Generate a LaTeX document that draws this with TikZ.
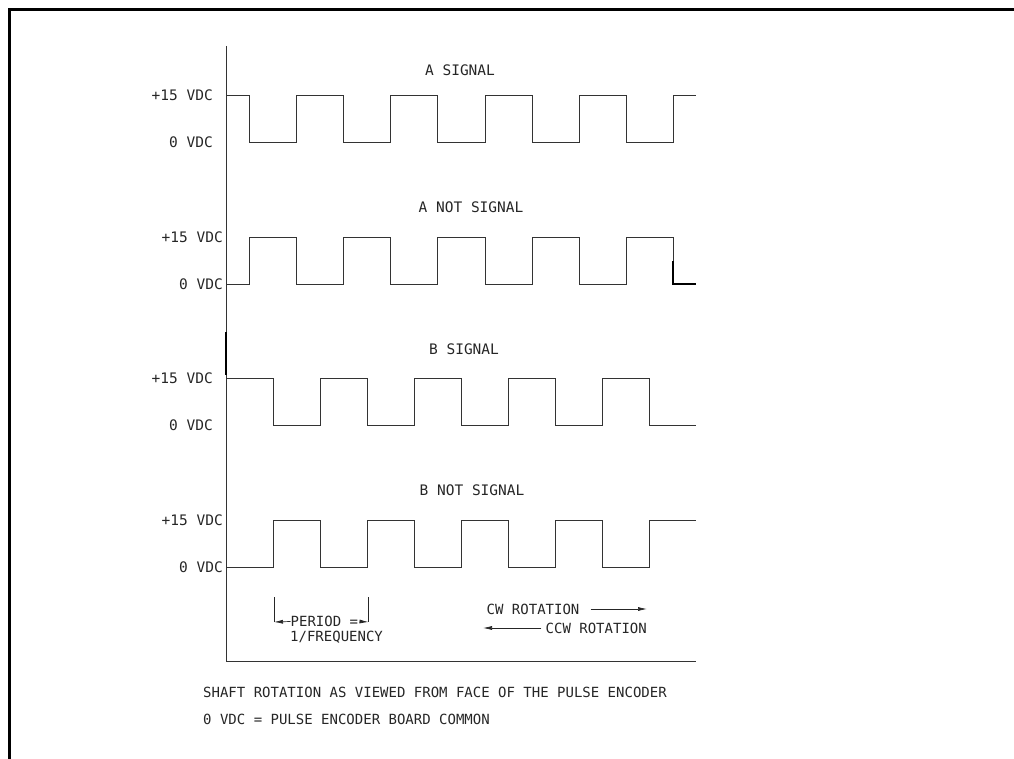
\documentclass[tikz,border=0pt]{standalone}
\usepackage{fontspec}
\newfontfamily\cadfont{DejaVu Sans Mono}
\usetikzlibrary{arrows.meta}
\tikzset{
  wave/.style={line width=0.9pt, black!80, line join=miter},
  axisline/.style={line width=0.9pt, black!80},
  frameline/.style={line width=3pt, black},
  lbl/.style={font=\cadfont\fontsize{14}{16}\selectfont, inner sep=0pt, text=black!85},
  ttl/.style={font=\cadfont\fontsize{14.5}{17}\selectfont, inner sep=0pt, text=black!85},
  tip/.style={-{Latex[length=9pt,width=4pt]}, line width=0.7pt, black!85}
}
\begin{document}
\begin{tikzpicture}[x=1pt,y=-1pt]
\useasboundingbox (0,0) rectangle (1014,759);
% frame
\draw[frameline] (9.5,759) -- (9.5,9.5) -- (1014,9.5);
% axes
\coordinate (axtop) at (226,46);
\coordinate (axorg) at (226,661);
\coordinate (axend) at (696,661);
\draw[axisline] (axtop) -- (axorg) -- (axend);
\draw[line width=1.6pt, black] (226,332) -- (226,375);
% A signal
\draw[wave] (226,95) -- (249,95) -- (249,142) -- (296,142) -- (296,95) -- (343,95) -- (343,142) -- (390,142) -- (390,95) -- (437,95) -- (437,142) -- (485,142) -- (485,95) -- (532,95) -- (532,142) -- (579,142) -- (579,95) -- (626,95) -- (626,142) -- (673,142) -- (673,95) -- (696,95);
% A not signal
\draw[wave] (226,284) -- (249,284) -- (249,237) -- (296,237) -- (296,284) -- (343,284) -- (343,237) -- (390,237) -- (390,284) -- (437,284) -- (437,237) -- (485,237) -- (485,284) -- (532,284) -- (532,237) -- (579,237) -- (579,284) -- (626,284) -- (626,237) -- (673,237) -- (673,261);
\draw[wave, line width=1.4pt, black] (673,261) -- (673,284) -- (696,284);
% B signal
\draw[wave] (226,378) -- (273,378) -- (273,425) -- (320,425) -- (320,378) -- (367,378) -- (367,425) -- (414,425) -- (414,378) -- (461,378) -- (461,425) -- (508,425) -- (508,378) -- (555,378) -- (555,425) -- (602,425) -- (602,378) -- (649,378) -- (649,425) -- (696,425);
% B not signal
\draw[wave] (226,567) -- (273,567) -- (273,520) -- (320,520) -- (320,567) -- (367,567) -- (367,520) -- (414,520) -- (414,567) -- (461,567) -- (461,520) -- (508,520) -- (508,567) -- (555,567) -- (555,520) -- (602,520) -- (602,567) -- (649,567) -- (649,520) -- (696,520);
% titles
\node[ttl] (tA) at (460,70) {A SIGNAL};
\node[ttl] (tAn) at (471,207) {A NOT SIGNAL};
\node[ttl] (tB) at (464,349) {B SIGNAL};
\node[ttl] (tBn) at (472,490) {B NOT SIGNAL};
% level labels
\node[ttl, anchor=east] (a15) at (213,95) {+15 VDC};
\node[ttl, anchor=east] (a0) at (213,142) {0 VDC};
\node[ttl, anchor=east] (an15) at (223,237) {+15 VDC};
\node[ttl, anchor=east] (an0) at (223,284) {0 VDC};
\node[ttl, anchor=east] (b15) at (213,378) {+15 VDC};
\node[ttl, anchor=east] (b0) at (213,425) {0 VDC};
\node[ttl, anchor=east] (bn15) at (223,520) {+15 VDC};
\node[ttl, anchor=east] (bn0) at (223,567) {0 VDC};
% period
\coordinate (pl) at (274,622);
\coordinate (pr) at (368.5,622);
\coordinate (plt) at (274,597);
\coordinate (prt) at (368.5,597);
\draw[line width=0.8pt, black!85] (plt) -- (pl);
\draw[line width=0.8pt, black!85] (prt) -- (pr);
\node[lbl, anchor=west] (per) at (290.5,621.5) {PERIOD =};
\node[lbl, anchor=west] (freq) at (290,637) {1/FREQUENCY};
\draw[tip] (per.west) -- (pl);
\draw[tip] (per.east) ++(1.5,0) coordinate (pst) (pst) -- (pr);
% rotation
\node[lbl, anchor=west] (cw) at (486.5,609) {CW ROTATION};
\node[lbl, anchor=east] (ccw) at (647,628) {CCW ROTATION};
\coordinate (cwend) at (647,609);
\coordinate (ccwend) at (483,628);
\draw[tip] ([xshift=11pt]cw.east) -- (cwend);
\draw[tip] ([xshift=-4pt]ccw.west) -- (ccwend);
% notes
\node[lbl, anchor=west] (n1) at (203,692) {SHAFT ROTATION AS VIEWED FROM FACE OF THE PULSE ENCODER};
\node[lbl, anchor=west] (n2) at (203,719) {0 VDC = PULSE ENCODER BOARD COMMON};
\end{tikzpicture}
\end{document}
